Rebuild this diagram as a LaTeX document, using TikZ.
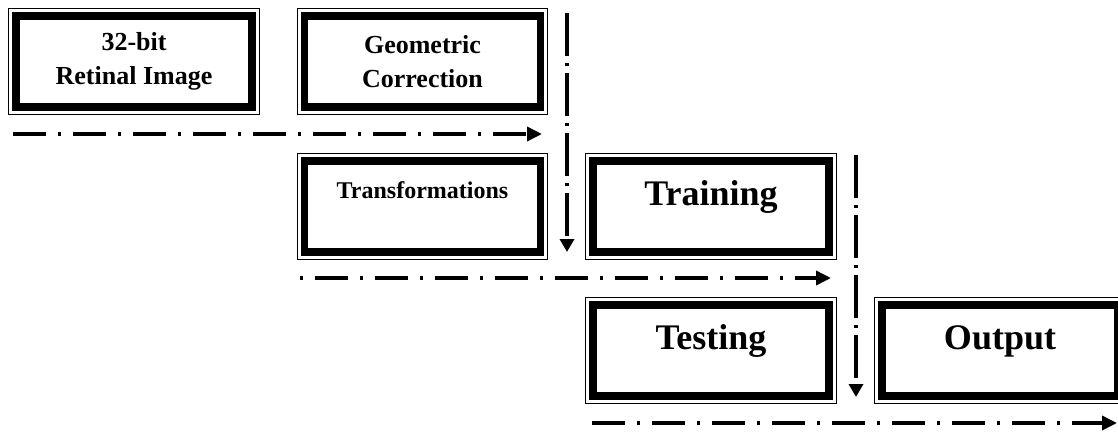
\documentclass[tikz,border=0pt]{standalone}
\usepackage{fontspec}
\setmainfont{Liberation Serif}
\usetikzlibrary{arrows.meta}

\begin{document}
\begin{tikzpicture}[x=1pt,y=-1pt,
  stage/.style={draw, line width=7.5pt, outer sep=0pt, inner sep=0pt,
    minimum width=236.4pt, minimum height=91.4pt, align=center},
  smalltxt/.style={font=\bfseries\fontsize{26}{34}\selectfont},
  midtxt/.style={font=\bfseries\fontsize{24}{28}\selectfont, text height=10pt, text depth=27pt},
  bigtxt/.style={font=\bfseries\fontsize{36}{40}\selectfont, text height=15pt, text depth=18pt},
  frame/.style={line width=1.3pt},
  flowh/.style={line width=3.5pt, -{Triangle[length=15pt,width=14pt]}},
  flowv/.style={line width=3.5pt, -{Triangle[length=13pt,width=14pt]},
    dash pattern=on 43pt off 7pt on 3pt off 7pt},
  dashfirst/.style={dash pattern=on 33pt off 12pt on 3pt off 12pt},
  dotfirst/.style={dash pattern=on 3pt off 12pt on 33pt off 12pt}
]
\useasboundingbox (0,0) rectangle (1118,431);
\clip (0,0) rectangle (1118,431);
\fill[white] (0,0) rectangle (1118,431);

% processing stages
\node[stage, smalltxt] (img)   at (134,61.5)    {32-bit\\Retinal Image};
\node[stage, smalltxt] (geo)   at (422.5,61.5)  {Geometric\\Correction};
\node[stage, midtxt]   (trans) at (422.5,206.5) {Transformations};
\node[stage, bigtxt]   (train) at (711,206.5)   {Training};
\node[stage, bigtxt]   (test)  at (711,350.5)   {Testing};
\node[stage, bigtxt]   (out)   at (1000,350.5)  {Output};

% thin outer frame around every stage
\foreach \n in {img,geo,trans,train,test,out}
  \draw[frame] ([shift={(-7pt,7pt)}]\n.north west)
       rectangle ([shift={(7pt,-7pt)}]\n.south east);

% flow lines
\coordinate (h1s) at (13,134);   \coordinate (h1e) at (542,134);
\coordinate (v1s) at (567,13);   \coordinate (v1e) at (567,252);
\coordinate (h2s) at (300,278);  \coordinate (h2e) at (831,278);
\coordinate (v2s) at (856,155);  \coordinate (v2e) at (856,397);
\coordinate (h3s) at (592,423);  \coordinate (h3e) at (1117,423);

\draw[flowh, dashfirst] (h1s) -- (h1e);
\draw[flowv] (v1s) -- (v1e);
\draw[flowh, dotfirst] (h2s) -- (h2e);
\draw[flowv] (v2s) -- (v2e);
\draw[flowh, dashfirst] (h3s) -- (h3e);
\end{tikzpicture}
\end{document}
